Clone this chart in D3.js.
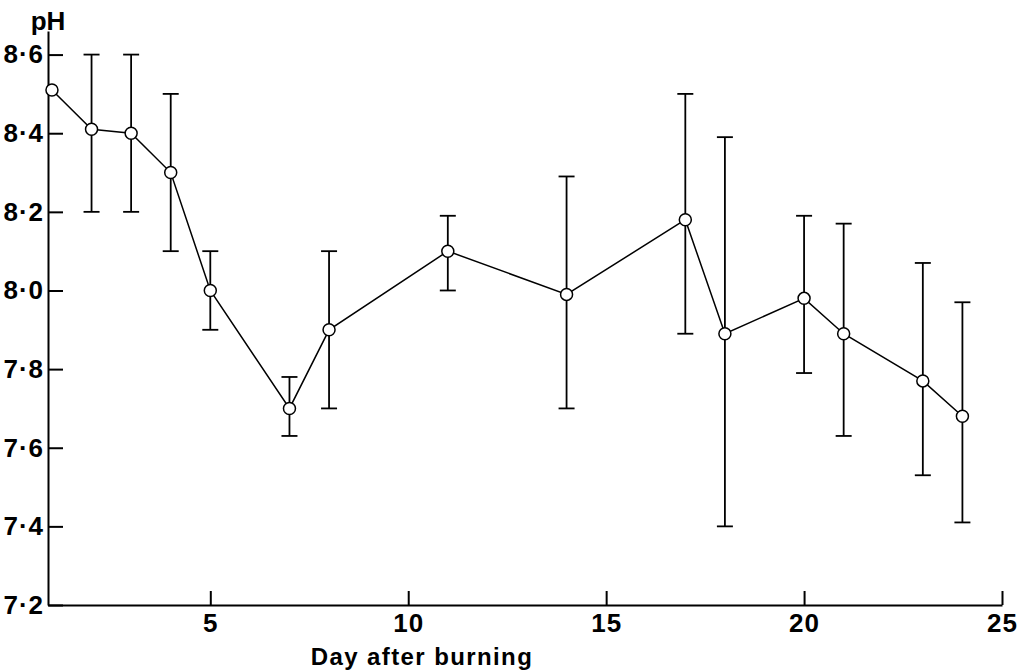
<!DOCTYPE html>
<html>
<head>
<meta charset="utf-8">
<script src="https://cdn.jsdelivr.net/npm/d3@7"></script>
<style>
    body { margin: 0; background: #fff; }
    svg { display: block; }
    text { font-family: "Liberation Sans", Arial, Helvetica, sans-serif; font-weight: bold; fill: #000; }
    .axis path, .axis line { stroke: #000; stroke-width: 2; }
    .line { fill: none; stroke: #000; stroke-width: 1.5; }
    .err { stroke: #000; stroke-width: 1.8; }
    .dot { fill: #fff; stroke: #000; stroke-width: 1.5; }
</style>
</head>
<body>
<div id="chart"></div>
<script>
// data
var days = [1, 2, 3, 4, 5, 7, 8, 11, 14, 17, 18, 20, 21, 23, 24];
var ph = [8.51, 8.41, 8.40, 8.30, 8.00, 7.70, 7.90, 8.10, 7.99, 8.18, 7.89, 7.98, 7.89, 7.77, 7.68];
var phHigh = [null, 8.60, 8.60, 8.50, 8.10, 7.78, 8.10, 8.19, 8.29, 8.50, 8.39, 8.19, 8.17, 8.07, 7.97];
var phLow = [null, 8.20, 8.20, 8.10, 7.90, 7.63, 7.70, 8.00, 7.70, 7.89, 7.40, 7.79, 7.63, 7.53, 7.41];
var xTicks = [5, 10, 15, 20, 25];
var yTicks = [7.2, 7.4, 7.6, 7.8, 8.0, 8.2, 8.4, 8.6];

function drawChart() {
    var width = 1027, height = 672;

    var svg = d3.select("#chart")
        .append("svg")
        .attr("width", width)
        .attr("height", height);

    var data = days.map(function (d, i) {
        return { day: d, ph: ph[i], hi: phHigh[i], lo: phLow[i] };
    });

    // scales
    var x = d3.scaleLinear()
        .domain([0.9, 25])
        .range([48, 1002]);
    var y = d3.scaleLinear()
        .domain([7.2, 8.66])
        .range([605, 31]);

    var fmt = function (d) { return d3.format(".1f")(d).replace(".", "\u00b7"); };

    // X axis, ticks pointing up
    svg.append("g")
        .attr("class", "axis")
        .attr("transform", "translate(0," + y(7.2) + ")")
        .call(d3.axisBottom(x)
            .tickValues(xTicks)
            .tickSizeInner(-14)
            .tickSizeOuter(0)
            .tickPadding(9)
            .tickFormat(d3.format("d")))
        .selectAll("text")
        .style("font-size", "26px")
        .style("letter-spacing", "1px");

    // Y axis, ticks pointing right
    svg.append("g")
        .attr("class", "axis")
        .attr("transform", "translate(" + x(0.9) + ",0)")
        .call(d3.axisLeft(y)
            .tickValues(yTicks)
            .tickSizeInner(-15)
            .tickSizeOuter(0)
            .tickPadding(4)
            .tickFormat(fmt))
        .selectAll("text")
        .style("font-size", "26px")
        .style("letter-spacing", "1px");

    // axis titles
    svg.append("text")
        .attr("x", x(0.9))
        .attr("y", 30)
        .attr("text-anchor", "middle")
        .style("font-size", "26px")
        .text("pH");

    svg.append("text")
        .attr("x", 422)
        .attr("y", 665)
        .attr("text-anchor", "middle")
        .style("font-size", "24px")
        .style("letter-spacing", "1.4px")
        .text("Day after burning");

    var withErr = data.filter(function (d) { return d.hi != null; });

    // error bars
    var eb = svg.append("g");
    eb.selectAll("stem")
        .data(withErr)
        .enter()
        .append("line")
        .attr("class", "err")
        .attr("x1", function (d) { return x(d.day); })
        .attr("x2", function (d) { return x(d.day); })
        .attr("y1", function (d) { return y(d.hi); })
        .attr("y2", function (d) { return y(d.lo); });
    eb.selectAll("capTop")
        .data(withErr)
        .enter()
        .append("line")
        .attr("class", "err")
        .attr("x1", function (d) { return x(d.day) - 8; })
        .attr("x2", function (d) { return x(d.day) + 8; })
        .attr("y1", function (d) { return y(d.hi); })
        .attr("y2", function (d) { return y(d.hi); });
    eb.selectAll("capBottom")
        .data(withErr)
        .enter()
        .append("line")
        .attr("class", "err")
        .attr("x1", function (d) { return x(d.day) - 8; })
        .attr("x2", function (d) { return x(d.day) + 8; })
        .attr("y1", function (d) { return y(d.lo); })
        .attr("y2", function (d) { return y(d.lo); });

    // the line
    svg.append("path")
        .datum(data)
        .attr("class", "line")
        .attr("d", d3.line()
            .x(function (d) { return x(d.day); })
            .y(function (d) { return y(d.ph); }));

    // the points
    svg.append("g")
        .selectAll("dot")
        .data(data)
        .enter()
        .append("circle")
        .attr("class", "dot")
        .attr("cx", function (d) { return x(d.day); })
        .attr("cy", function (d) { return y(d.ph); })
        .attr("r", 6);
}

drawChart();
</script>
</body>
</html>
